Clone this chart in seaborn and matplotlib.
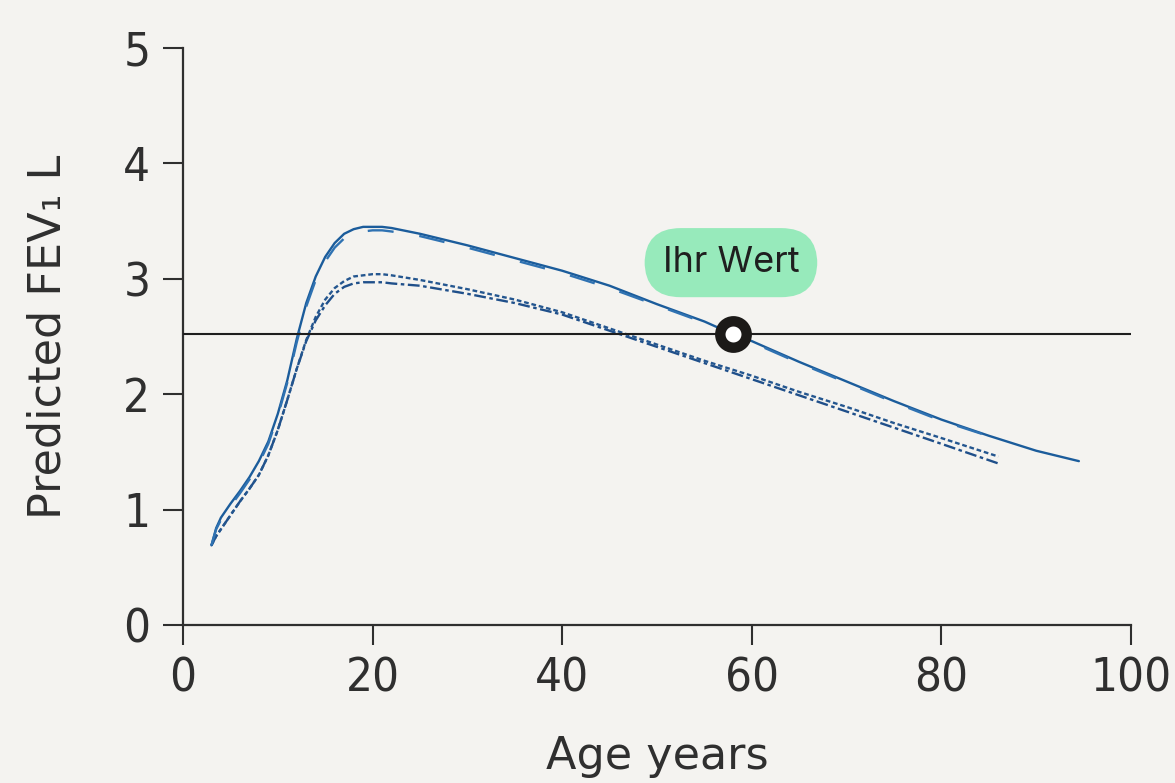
import matplotlib
matplotlib.use("Agg")
import matplotlib.pyplot as plt
from matplotlib import font_manager
import pandas as pd
import seaborn as sns

# Predicted FEV1 (litres) by age for four reference equations
age_male_a = [3, 3.5, 4, 5, 6, 7, 8, 9, 10, 11, 12, 13, 14, 15, 16, 17, 18, 19, 20,
              21, 22, 25, 30, 35, 40, 45, 50, 55, 58, 60, 65, 70, 75, 80, 85, 90, 94.5]
fev1_male_a = [0.69, 0.84, 0.93, 1.05, 1.16, 1.28, 1.42, 1.59, 1.83, 2.12, 2.48,
               2.79, 3.02, 3.19, 3.31, 3.39, 3.43, 3.45, 3.45, 3.45, 3.44, 3.39,
               3.29, 3.18, 3.07, 2.94, 2.78, 2.63, 2.52, 2.46, 2.28, 2.11, 1.94,
               1.78, 1.64, 1.51, 1.42]

age_male_b = [3, 3.5, 4, 5, 6, 7, 8, 9, 10, 11, 12, 13, 14, 15, 16, 17, 18, 19, 20,
              21, 22, 25, 30, 35, 40, 45, 50, 55, 58, 60, 65, 70, 75, 80, 86]
fev1_male_b = [0.69, 0.83, 0.91, 1.03, 1.14, 1.26, 1.40, 1.57, 1.81, 2.10, 2.45,
               2.76, 2.99, 3.15, 3.27, 3.35, 3.39, 3.41, 3.42, 3.42, 3.41, 3.37,
               3.27, 3.16, 3.05, 2.92, 2.77, 2.62, 2.52, 2.45, 2.27, 2.10, 1.93,
               1.77, 1.61]

age_female_a = [3, 3.5, 4, 5, 6, 7, 8, 9, 10, 11, 12, 13, 14, 15, 16, 17, 18, 19,
                20, 21, 22, 25, 30, 35, 40, 45, 50, 55, 60, 65, 70, 75, 80, 86]
fev1_female_a = [0.69, 0.77, 0.83, 0.95, 1.07, 1.18, 1.30, 1.47, 1.69, 1.95, 2.22,
                 2.47, 2.67, 2.82, 2.92, 2.98, 3.02, 3.03, 3.04, 3.04, 3.03, 2.99,
                 2.91, 2.82, 2.71, 2.57, 2.43, 2.29, 2.16, 2.02, 1.89, 1.75, 1.62,
                 1.46]

age_female_b = [3, 3.5, 4, 5, 6, 7, 8, 9, 10, 11, 12, 13, 14, 15, 16, 17, 18, 19,
                20, 21, 22, 25, 30, 35, 40, 45, 50, 55, 60, 65, 70, 75, 80, 86]
fev1_female_b = [0.69, 0.77, 0.83, 0.95, 1.07, 1.18, 1.30, 1.47, 1.69, 1.95, 2.22,
                 2.46, 2.64, 2.77, 2.87, 2.93, 2.96, 2.97, 2.97, 2.97, 2.96, 2.94,
                 2.87, 2.79, 2.69, 2.55, 2.41, 2.27, 2.13, 1.99, 1.85, 1.71, 1.57,
                 1.40]

# The patient's measurement
your_age = 58
your_fev1 = 2.52
marker_label = "Ihr Wert"

x_ticks = [0, 20, 40, 60, 80, 100]
y_ticks = [0, 1, 2, 3, 4, 5]

BG = "#f4f3f0"
INK = "#2f2f2f"

sns.set_style("ticks")
plt.rcParams.update({
    "figure.facecolor": BG,
    "axes.facecolor": BG,
    "axes.edgecolor": INK,
    "axes.linewidth": 1.6,
    "xtick.color": INK,
    "ytick.color": INK,
})
plt.rcParams["font.family"] = ["DejaVu Sans"]

fig = plt.figure(figsize=(11.75, 7.83), dpi=100)
ax = fig.add_axes([183 / 1175, 1 - 625 / 783, 948 / 1175, 577 / 783])

series = [
    (age_female_b, fev1_female_b, "#1f4f8a", (0, (5, 1.5, 1.5, 1.5))),
    (age_female_a, fev1_female_a, "#24568f", (0, (2, 1.2))),
    (age_male_a, fev1_male_a, "#1b5c9b", "-"),
    (age_male_b, fev1_male_b, "#2f72b2", (0, (11, 11))),
]
for ages, values, color, ls in series:
    df = pd.DataFrame({"age": ages, "fev1": values})
    sns.lineplot(data=df, x="age", y="fev1", ax=ax, color=color,
                 linestyle=ls, linewidth=1.7, sort=False, estimator=None)

ax.axhline(your_fev1, color="#1e1e1e", linewidth=1.5, zorder=4)
ax.plot([your_age], [your_fev1], marker="o", markersize=19, markeredgewidth=7.5,
        markerfacecolor="white", markeredgecolor="#1c1a18", zorder=6)

ax.annotate(marker_label, xy=(your_age, your_fev1), xytext=(57.8, 3.14),
            textcoords="data", ha="center", va="center",
            fontsize=26, family="Inter", color="#1f1f1f",
            bbox=dict(boxstyle="round,pad=0.5,rounding_size=1.0",
                      facecolor="#97eabb", edgecolor="none"), zorder=7)

ax.set_xlim(0, 100)
ax.set_ylim(0, 5)
ax.set_xticks(x_ticks)
ax.set_yticks(y_ticks)
sns.despine(ax=ax)

# Narrow face for the tick numbers
tick_fp = font_manager.FontProperties(family="DejaVu Sans", stretch="condensed",
                                      weight="light", size=34)
ax.set_xticklabels([str(v) for v in x_ticks], fontproperties=tick_fp)
ax.set_yticklabels([str(v) for v in y_ticks], fontproperties=tick_fp)
ax.tick_params(axis="both", length=14.5, width=1.5, direction="out")
ax.tick_params(axis="x", pad=8)
ax.tick_params(axis="y", pad=9)

ax.set_xlabel("Age years", fontsize=32, color=INK)
ax.set_ylabel("Predicted FEV\u2081 L", fontsize=32, color=INK)
ax.xaxis.set_label_coords(0.5, -0.19)
ax.yaxis.set_label_coords(-0.12, 0.5)

fig.savefig("out.png", dpi=100, facecolor=BG)
